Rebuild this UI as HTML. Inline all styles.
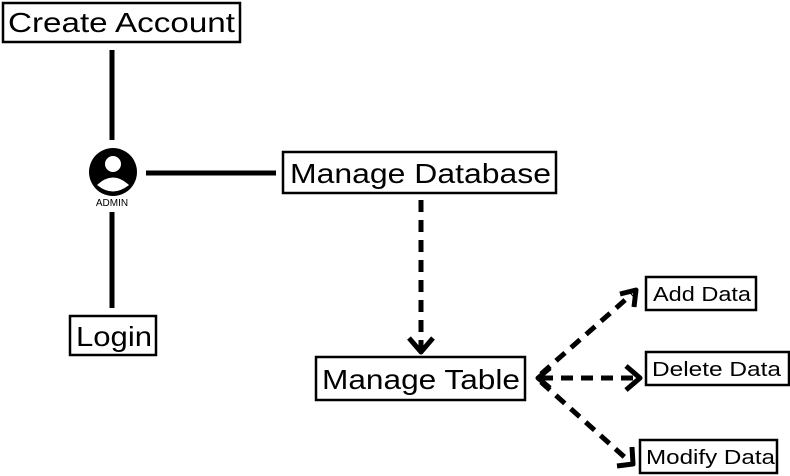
<!DOCTYPE html>
<html><head><style>
html,body{margin:0;padding:0;background:#fff;}
svg{display:block;}
text{font-family:"Liberation Sans",sans-serif;fill:#000;}
</style></head><body>
<svg width="790" height="476" viewBox="0 0 790 476" xmlns="http://www.w3.org/2000/svg">
<g fill="#fff" stroke="#000" stroke-width="2.5">
<rect x="3" y="3" width="237" height="39"/>
<rect x="283" y="152" width="273" height="41"/>
<rect x="70" y="316" width="86" height="39"/>
<rect x="316" y="357" width="209" height="43"/>
<rect x="646" y="277" width="110" height="33"/>
<rect x="646" y="352" width="143" height="33"/>
<rect x="640" y="440" width="137" height="33"/>
</g>
<g font-size="28" lengthAdjust="spacingAndGlyphs">
<text x="8" y="32" textLength="227" lengthAdjust="spacingAndGlyphs">Create Account</text>
<text x="290" y="183" textLength="261" lengthAdjust="spacingAndGlyphs">Manage Database</text>
<text x="76" y="346" textLength="76" lengthAdjust="spacingAndGlyphs">Login</text>
<text x="322" y="389" textLength="198" lengthAdjust="spacingAndGlyphs">Manage Table</text>
</g>
<g font-size="20">
<text x="653" y="301" textLength="98" lengthAdjust="spacingAndGlyphs">Add Data</text>
<text x="652" y="376" textLength="129" lengthAdjust="spacingAndGlyphs">Delete Data</text>
<text x="646" y="464" textLength="129" lengthAdjust="spacingAndGlyphs">Modify Data</text>
</g>
<g stroke="#000" stroke-width="5" fill="none">
<line x1="112" y1="50" x2="112" y2="140"/>
<line x1="146" y1="173" x2="276" y2="173"/>
<line x1="112" y1="212" x2="112" y2="308"/>
</g>
<circle cx="113" cy="172" r="24" fill="#000"/>
<path d="M97 185 Q113 170 129 185 Q113 198 97 185Z" fill="#fff"/>
<circle cx="113" cy="166" r="6" fill="#000"/>
<circle cx="113" cy="164" r="8" fill="#fff"/>
<text x="112" y="206" font-size="10" text-anchor="middle">ADMIN</text>
<g stroke="#000" stroke-width="5" fill="none" stroke-dasharray="12,8" stroke-linecap="butt">
<line x1="421" y1="200" x2="421" y2="348"/>
<line x1="541" y1="374" x2="632" y2="294"/>
<line x1="541" y1="378" x2="636" y2="378"/>
<line x1="541" y1="382" x2="630" y2="462"/>
</g>
<g stroke="#000" stroke-width="5" fill="none" stroke-linejoin="round">
<polyline points="409,338 421,352 433,338"/>
<polyline points="620,294 636,290 634,307"/>
<polyline points="626,366 640,378 626,390"/>
<polyline points="550,368 538,378 550,388"/>
<polyline points="632,447 633,464 617,466"/>
</g>
</svg>
</body></html>
